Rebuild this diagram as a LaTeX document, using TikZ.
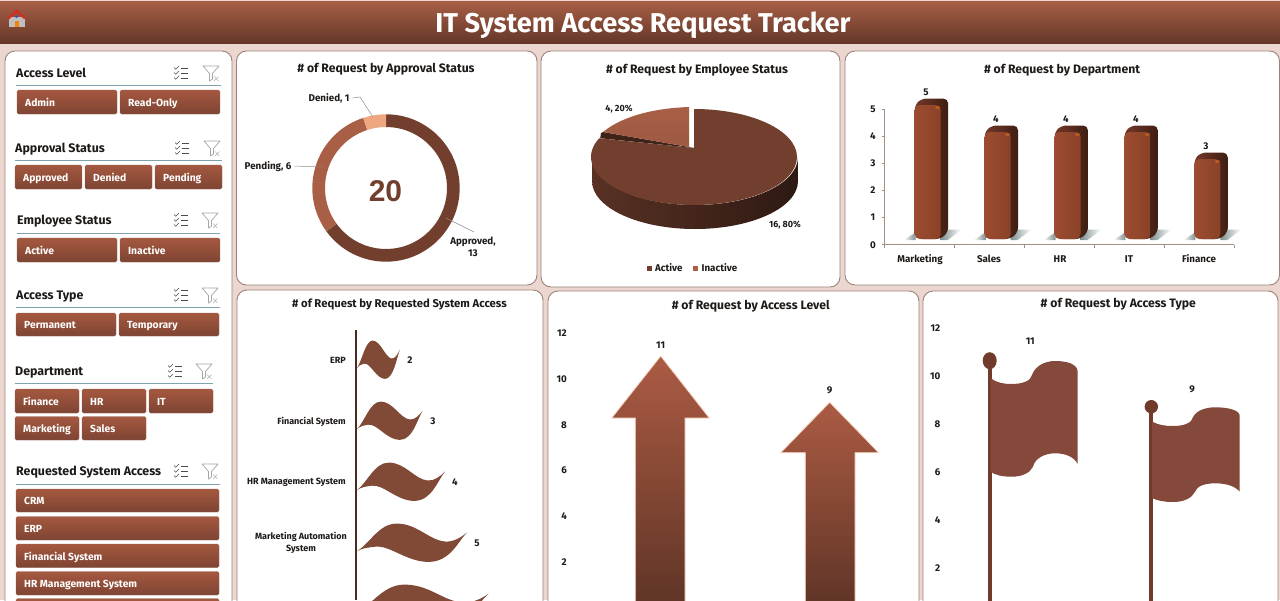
\documentclass[tikz,border=0pt]{standalone}
\usepackage{fontspec}
\setmainfont{Fira Sans}
\newfontfamily\arialfam{Liberation Sans}
\definecolor{pagebg}{HTML}{EBD6D0}
\definecolor{edgec}{HTML}{9C8278}
\definecolor{brownD}{HTML}{723F2E}
\definecolor{brownM}{HTML}{A85F46}
\definecolor{peach}{HTML}{EFA77F}
\definecolor{waveC}{HTML}{804A37}
\definecolor{flagC}{HTML}{84493A}
\definecolor{poleC}{HTML}{703B2B}
\definecolor{ink}{HTML}{1E1A18}
\definecolor{rule}{HTML}{7FA3AE}
\definecolor{btnT}{HTML}{A5583F}
\definecolor{btnB}{HTML}{7E4433}
\definecolor{axisC}{HTML}{A58E84}
\definecolor{barF}{HTML}{B05838}
\definecolor{barL}{HTML}{9C4C30}
\definecolor{barR}{HTML}{8A4228}
\definecolor{barS}{HTML}{74392A}
\definecolor{barD}{HTML}{3E1D12}
\definecolor{floorS}{HTML}{7E8F90}
\tikzset{
  panel/.style={fill=white,draw=edgec,line width=0.9pt,rounded corners=10pt},
  lbl/.style={font=\bfseries\fontsize{9.8}{11.5}\selectfont,text=ink,inner sep=0pt,text height=6.8pt,text depth=0pt},
  lblsm/.style={font=\bfseries\fontsize{9}{11}\selectfont,text=ink,inner sep=0pt,text height=6.3pt,text depth=0pt},
  lbltwo/.style={font=\bfseries\fontsize{9.8}{12}\selectfont,text=ink,inner sep=0pt,align=center},
  lbltwosm/.style={font=\bfseries\fontsize{9}{12}\selectfont,text=ink,inner sep=0pt,align=center},
  ctitle/.style={font=\bfseries\fontsize{12.2}{14}\selectfont,text=ink,inner sep=0pt,text height=8.5pt,text depth=0pt},
  shead/.style={font=\bfseries\fontsize{12.4}{14}\selectfont,text=ink,inner sep=0pt,anchor=west,text height=8.6pt,text depth=0pt},
  btnbox/.style={rounded corners=1.5pt,top color=btnT,bottom color=btnB,draw=btnB!85!white,line width=0.3pt},
  btntext/.style={text=white,font=\bfseries\fontsize{10.3}{12}\selectfont,inner sep=0pt,anchor=west,text height=7.2pt,text depth=0pt},
  leader/.style={draw=black!45,line width=0.5pt},
  arrowshape/.style={top color=brownM!96!red,bottom color=black!18!brownD,draw=peach!45!white,line width=0.8pt},
}
\newcommand{\btnrect}[6]{%
  \path[btnbox] (#2,#3) rectangle (#4,#5);
  \node[btntext] (#1) at ({#2+8},{(#3+#5)/2+0.8}) {#6};}
\newcommand{\chk}[2]{%
  \begin{scope}[shift={(#1,#2)}]
  \foreach \yy in {-5,0,5}{
    \draw[black!70,line width=0.55pt] (-7,\yy-0.5) -- (-5.3,\yy+1.2) -- (-2,\yy-2);
    \draw[black!70,line width=0.7pt] (-0.5,\yy) -- (7,\yy);
  }
  \end{scope}}
\newcommand{\fnl}[2]{%
  \begin{scope}[shift={(#1,#2)}]
  \draw[black!35,line width=0.7pt,line join=round] (-8,-7) -- (8,-7) -- (1.5,0.5) -- (1.5,6) -- (-1.5,8) -- (-1.5,0.5) -- cycle;
  \draw[black!30,line width=0.6pt] (3,3.5) -- (7.5,8) (7.5,3.5) -- (3,8);
  \end{scope}}
\newcommand{\sechead}[8]{% name text x y x2 ruley icon1 icon2
  \node[shead] (#1) at (#3,#4) {#2};
  \draw[rule,line width=0.9pt] (#3,#6) -- (#5,#6);
  \chk{#7}{#4}
  \fnl{#8}{#4}}
\newcommand{\depbar}[2]{% x, fronttop
  \path[left color=white,right color=floorS] (#1-11,240) -- (#1+1,240) -- (#1+1,233) -- (#1,233) -- cycle;
  \path[left color=floorS,right color=white] (#1+26,240) -- (#1+33,240) -- (#1+47,229.5) -- (#1+33,229.5) -- (#1+26,233) -- cycle;
  \path[rounded corners=5pt,left color=barS,right color=barD] (#1+3,239) -- (#1,#2) -- (#1+7,#2-6.5) -- (#1+33.5,#2-6.5) -- (#1+33.5,232) -- (#1+26,239) -- cycle;
  \path[rounded corners=5pt,left color=barL,middle color=barF,right color=barR] (#1,239) -- (#1,#2) -- (#1+26,#2) -- (#1+26,239) -- cycle;
  \fill[orange!50!barF,opacity=0.6] (#1+23,#2+2.5) ellipse[x radius=2.5,y radius=1.5];
}
\newcommand{\wavef}[2]{% y center, W
  \begin{scope}[shift={(357,#1)}]
  \fill[waveC] (0,8.2) .. controls ({.12*#2},0) and ({.2*#2},-19.4) .. ({.36*#2},-19.4)
   .. controls ({.55*#2},-19.4) and ({.65*#2},-3) .. ({.8*#2},-1.5)
   .. controls ({.88*#2},-0.8) and ({.95*#2},-6) .. (#2,-10.5)
   .. controls ({.92*#2},-2) and ({.85*#2},18.9) .. ({.65*#2},18.9)
   .. controls ({.45*#2},18.9) and ({.3*#2},2) .. ({.165*#2},3.7)
   .. controls ({.1*#2},4.5) and ({.05*#2},5) .. (0,8.2) -- cycle;
  \end{scope}}
\newcommand{\donutseg}[3]{%
  \fill[#3] (#1:73.7) arc[start angle=#1,end angle=#2,radius=73.7] -- (#2:61) arc[start angle=#2,end angle=#1,radius=61] -- cycle;}
\begin{document}
\begin{tikzpicture}[x=1pt,y=-1pt]
\path[use as bounding box,clip] (0,0) rectangle (1280,600);
\fill[pagebg] (0,0) rectangle (1280,600);
% header
\path[top color=brownM,bottom color=black!12!brownD] (0,1) rectangle (1280,43);
\node[inner sep=0pt,text=white,font=\bfseries\fontsize{27.2}{30}\selectfont,text height=19pt,text depth=0pt] (mainTitle) at (643,23) {IT System Access Request Tracker};
% home icon
\fill[black!25] (9,17) rectangle (25,27);
\fill[red!55!brownM] (7.5,18) -- (16.7,9.3) -- (26,18) -- (24,19) -- (16.7,12.5) -- (9.5,19) -- cycle;
\fill[orange!85!brown] (14.5,20.5) rectangle (18.5,27);
\fill[blue!45!gray] (16.5,16.5) circle (1.5);
% panels
\path[panel] (5,51) rectangle (232,620);
\path[panel] (236.5,51) rectangle (537,285);
\path[panel] (541,51) rectangle (840,287);
\path[panel] (845,51) rectangle (1279.5,285);
\path[panel] (237,290) rectangle (543,620);
\path[panel] (548,291) rectangle (919,620);
\path[panel] (923,291) rectangle (1278,620);
% sidebar
\sechead{hLevel}{Access Level}{16}{73}{221}{85.5}{181}{211}
\btnrect{bAdmin}{17}{90}{117}{114}{Admin}
\btnrect{bRead}{120}{90}{220}{114}{Read-Only}
\sechead{hAppr}{Approval Status}{15}{148}{222}{160.5}{182}{212}
\btnrect{bApproved}{15}{165}{82}{189}{Approved}
\btnrect{bDenied}{85}{165}{152}{189}{Denied}
\btnrect{bPending}{155}{165}{222}{189}{Pending}
\sechead{hEmp}{Employee Status}{17}{220}{220}{233}{181}{210}
\btnrect{bActive}{17}{238}{117}{262}{Active}
\btnrect{bInactive}{120}{238}{220}{262}{Inactive}
\sechead{hType}{Access Type}{16}{295}{220}{307.5}{181}{210}
\btnrect{bPerm}{16}{313}{116}{336}{Permanent}
\btnrect{bTemp}{119}{313}{219}{336}{Temporary}
\sechead{hDept}{Department}{15}{371}{213}{383.7}{175}{204}
\btnrect{bFin}{15}{389}{79}{413}{Finance}
\btnrect{bHR}{82}{389}{146}{413}{HR}
\btnrect{bIT}{149}{389}{213}{413}{IT}
\btnrect{bMkt}{15}{416.5}{79}{440}{Marketing}
\btnrect{bSales}{82}{416.5}{146}{440}{Sales}
\sechead{hSys}{Requested System Access}{16}{471}{220}{484.5}{181}{210}
\btnrect{bCRM}{16}{489}{219}{512}{CRM}
\btnrect{bERP}{16}{516.5}{219}{540}{ERP}
\btnrect{bFS}{16}{544}{219}{567.5}{Financial System}
\btnrect{bHRM}{16}{571.5}{219}{595}{HR Management System}
\path[btnbox] (16,598.5) rectangle (219,622);
% donut
\node[ctitle] (t1) at (386,68) {\# of Request by Approval Status};
\begin{scope}[shift={(386,188)},x=1pt,y=1pt]
\donutseg{90}{-144}{brownD}
\donutseg{-144}{-252}{brownM}
\donutseg{-252}{-270}{peach}
\end{scope}
\node[inner sep=0pt,text=brownD,font=\arialfam\bfseries\fontsize{30}{34}\selectfont,text height=21.5pt,text depth=0pt] (big) at (385.5,190.5) {20};
\node[lbl] (lDenied) at (329,98) {Denied, 1};
\node[lbl] (lPending) at (268,166) {Pending, 6};
\node[lbltwo] (lApproved) at (473,247) {Approved,\\13};
\coordinate (dA) at (360,97);
\coordinate (dB) at (372.7,116.7);
\coordinate (pA) at (322,167);
\coordinate (aA) at (446,218);
\coordinate (aB) at (474,232);
\draw[leader] ([xshift=3pt]lDenied.east) -- (dA) -- (dB);
\draw[leader] ([xshift=3pt]lPending.east) -- (pA);
\draw[leader] (aB) -- (aA);
% pie
\node[ctitle] (t2) at (697,69) {\# of Request by Employee Status};
\begin{scope}[shift={(695,157)},x=1pt,y=1pt]
\path[left color=black!22!brownD,middle color=black!15!brownD,right color=black!60!brownD]
  (-103,0) -- (-103,-24) arc[start angle=180,end angle=360,x radius=103,y radius=48] -- (103,0)
  arc[start angle=0,end angle=-180,x radius=103,y radius=48] -- cycle;
\fill[brownD] (-1,9) -- (-1,48) arc[start angle=90,end angle=-203,x radius=103,y radius=48] -- cycle;
\fill[black!45!brownD] (-94.8,18.8) -- (-94,24) -- (-92,25) -- (-6,10) -- (-1,9) -- cycle;
\path[top color=brownM,bottom color=black!6!brownM] (-6,10) -- (-6,50) .. controls (-35,49) and (-70,43) .. (-92,25) -- cycle;
\end{scope}
\node[lblsm] (l420) at (619,108) {4, 20\%};
\node[lblsm] (l1680) at (785,224) {16, 80\%};
\fill[brownD] (646.5,265.5) rectangle (651.5,270.5);
\node[lbl,anchor=west] (lgA) at (655,268) {Active};
\fill[brownM] (692.5,265.5) rectangle (697.5,270.5);
\node[lbl,anchor=west] (lgI) at (701.5,268) {Inactive};
% bar chart
\node[ctitle] (t3) at (1062,69.5) {\# of Request by Department};
\depbar{914.7}{105}
\depbar{984.6}{132}
\depbar{1054.5}{132}
\depbar{1124.4}{132}
\depbar{1194.3}{159}
\draw[axisC,line width=0.9pt] (884.7,109.3) -- (884.7,244.7) -- (1234,244.7);
\foreach \v/\yy in {5/109.3,4/136.4,3/163.4,2/190.4,1/217.4,0/244.7}{
  \draw[axisC,line width=0.9pt] (881.5,\yy) -- (884.7,\yy);
  \node[lbl] at (873,\yy) {\v};
}
\foreach \xx in {884.7,954.6,1024.5,1094.4,1164.3,1234}{\draw[axisC,line width=0.9pt] (\xx,244.7) -- (\xx,248);}
\foreach \tn/\xx in {Marketing/920,Sales/989,HR/1060,IT/1129,Finance/1199}{\node[lbl] at (\xx,258.7) {\tn};}
\foreach \tn/\xx/\yy in {5/926/91.7,4/996/119,4/1066/119,4/1136/119,3/1206/146}{\node[lbl] at (\xx,\yy) {\tn};}
% system chart
\node[ctitle,font=\bfseries\fontsize{11.3}{14}\selectfont] (t4) at (399.5,303) {\# of Request by Requested System Access};
\wavef{360}{43}
\wavef{421}{65.7}
\wavef{482}{88}
\wavef{543}{110}
\wavef{604}{132}
\draw[black!35!brownD,line width=1.4pt] (356,330) -- (356,600);
\node[lblsm,anchor=east] at (346,360) {ERP};
\node[lblsm,anchor=east] at (346,421) {Financial System};
\node[lblsm,anchor=east] at (346,481.5) {HR Management System};
\node[lbltwosm] at (301,542.5) {Marketing Automation\\System};
\node[lbl] at (410,360) {2};
\node[lbl] at (433,421) {3};
\node[lbl] at (455,482) {4};
\node[lbl] at (477,543) {5};
% access level
\node[ctitle] (t5) at (750.7,305) {\# of Request by Access Level};
\path[arrowshape] (660.7,356) -- (709.3,418) -- (685,418) -- (685,610) -- (635.3,610) -- (635.3,418) -- (611.7,418) -- cycle;
\path[arrowshape] (829.7,402.3) -- (878.7,452.7) -- (855,452.7) -- (855,610) -- (805.3,610) -- (805.3,452.7) -- (780.7,452.7) -- cycle;
\foreach \v/\yy in {12/333,10/378.7,8/424.7,6/470,4/516,2/562}{\node[lbl,anchor=east] at (567,\yy) {\v};}
\node[lbl] at (660.7,344.7) {11};
\node[lbl] at (829.7,390.5) {9};
% access type
\node[ctitle] (t6) at (1118.3,303) {\# of Request by Access Type};
\fill[poleC] (987.7,365) rectangle (991.7,610);
\fill[poleC] (989.7,360.7) ellipse[x radius=7,y radius=8.5];
\fill[flagC] (990.5,378) .. controls (997,383) and (1004,384) .. (1011.7,384)
  .. controls (1022,384) and (1031,381) .. (1032,375)
  .. controls (1035,366) and (1045,361) .. (1055,361)
  .. controls (1067,361) and (1077.7,364) .. (1077.7,372)
  -- (1077.7,464) .. controls (1074,457) and (1066,453.3) .. (1055,453.3)
  .. controls (1045,453.3) and (1035,458) .. (1033,466.7)
  .. controls (1030,473) and (1022,476.7) .. (1011.7,476.7)
  .. controls (1002,476.7) and (995,475) .. (990.5,471.7) -- cycle;
\fill[poleC] (1149.3,410) rectangle (1153.3,610);
\fill[poleC] (1151.3,406.7) circle (6.7);
\fill[flagC] (1152,421.5) .. controls (1158,425) and (1165,426) .. (1173.3,426)
  .. controls (1184,426) and (1192,423) .. (1193.3,416.7)
  .. controls (1196,411) and (1205,407.3) .. (1215,407.3)
  .. controls (1228,407.3) and (1239.7,410) .. (1239.7,416)
  -- (1239.7,491.7) .. controls (1235,486) and (1226,483.3) .. (1215,483.3)
  .. controls (1205,483.3) and (1197,486) .. (1195,491.7)
  .. controls (1192,498) and (1184,502) .. (1173.3,502)
  .. controls (1165,502) and (1158,501) .. (1152,498) -- cycle;
\foreach \v/\yy in {12/327.7,10/375.7,8/424,6/471.7,4/520,2/567.7}{\node[lbl,anchor=east] at (940.5,\yy) {\v};}
\node[lbl] at (1030.3,340.7) {11};
\node[lbl] at (1192,389) {9};
\end{tikzpicture}
\end{document}
